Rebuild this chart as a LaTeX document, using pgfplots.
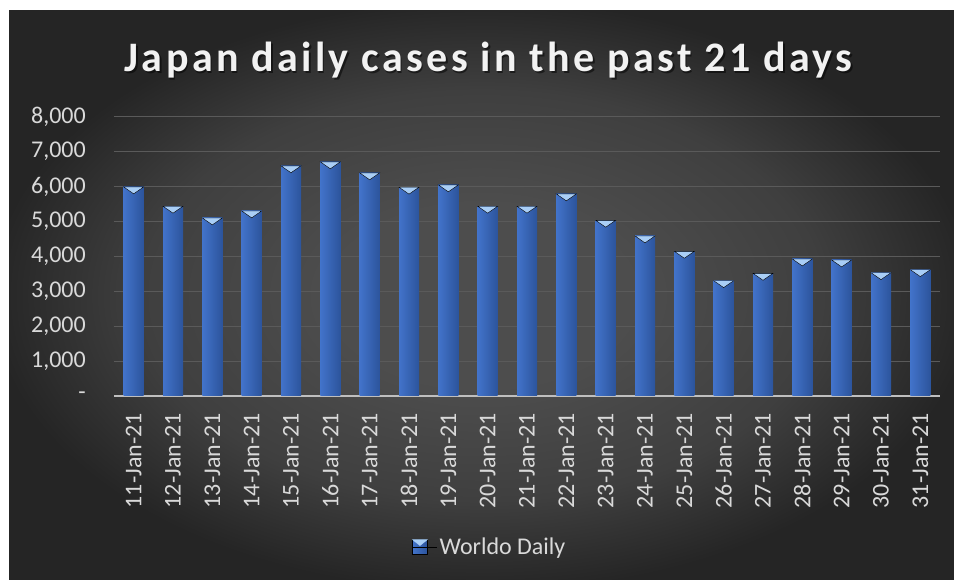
\documentclass[border=0pt]{standalone}
\usepackage{pgfplots}
\pgfplotsset{compat=1.18}
\usepackage{fontspec}
\setmainfont{Carlito}
\newfontfamily\titlefont[LetterSpace=8]{Carlito}
\definecolor{bgc}{HTML}{4D4D4D}
\definecolor{bgm}{HTML}{3F3F3F}
\definecolor{bge}{HTML}{252525}
\definecolor{barL}{HTML}{4273CA}
\definecolor{barM}{HTML}{598EE6}
\definecolor{barR}{HTML}{2C549C}
\definecolor{bevel}{HTML}{A9CEF6}
\definecolor{tickc}{HTML}{D9D9D9}
\definecolor{gridc}{HTML}{5A5A5A}
\definecolor{axisc}{HTML}{BFBFBF}
\pgfdeclareradialshading{bgshade}{\pgfpoint{0bp}{0bp}}{color(0bp)=(bgc); color(8bp)=(bgc); color(18bp)=(bgm); color(26bp)=(bge); color(40bp)=(bge)}
\pgfplotsset{mybar/.style={ybar, bar width=20bp, draw=none, left color=barL, middle color=barM, right color=barR, forget plot}}
\begin{document}
\begin{tikzpicture}
\fill[white] (0bp,0bp) rectangle (954bp,580bp);
\shade[shading=bgshade] (9bp,0bp) rectangle (954bp,569bp);
\node[anchor=base, text=black, opacity=0.5, font={\titlefont\bfseries\fontsize{42bp}{48bp}\selectfont}] at (490bp,506.8bp) {Japan daily cases in the past 21 days};
\node[anchor=base, text=white!95!black, font={\titlefont\bfseries\fontsize{42bp}{48bp}\selectfont}] at (488.5bp,508.3bp) {Japan daily cases in the past 21 days};
\begin{axis}[
  at={(114bp,184bp)}, anchor=south west,
  scale only axis, width=826bp, height=279.3bp,
  xmin=-0.5, xmax=20.5, ymin=0, ymax=8000,
  axis lines*=left,
  x axis line style={draw=axisc, line width=2bp},
  y axis line style={draw=none},
  major tick length=0pt,
  tick style={draw=none},
  ymajorgrids, major grid style={draw=gridc, line width=1bp},
  xtick={0,...,20},
  xticklabels={11-Jan-21,12-Jan-21,13-Jan-21,14-Jan-21,15-Jan-21,16-Jan-21,17-Jan-21,18-Jan-21,19-Jan-21,20-Jan-21,21-Jan-21,22-Jan-21,23-Jan-21,24-Jan-21,25-Jan-21,26-Jan-21,27-Jan-21,28-Jan-21,29-Jan-21,30-Jan-21,31-Jan-21},
  ytick={0,1000,...,8000},
  yticklabels={{-\hspace{11bp}},{1,000},{2,000},{3,000},{4,000},{5,000},{6,000},{7,000},{8,000}},
  ticklabel style={text=tickc, font=\fontsize{24bp}{28bp}\selectfont, inner sep=0pt},
  xticklabel style={rotate=90, anchor=east},
  xticklabel shift=17bp,
  yticklabel style={anchor=east},
  yticklabel shift=28bp,
  legend style={at={(0.455,-0.541)}, anchor=center, draw=none, fill=none, text=tickc, font=\fontsize{24bp}{28bp}\selectfont, inner sep=0pt},
  clip=false,
]
\addplot[mybar] coordinates {(0,5994)};
\addplot[mybar] coordinates {(1,5440)};
\addplot[mybar] coordinates {(2,5105)};
\addplot[mybar] coordinates {(3,5306)};
\addplot[mybar] coordinates {(4,6597)};
\addplot[mybar] coordinates {(5,6711)};
\addplot[mybar] coordinates {(6,6396)};
\addplot[mybar] coordinates {(7,5985)};
\addplot[mybar] coordinates {(8,6052)};
\addplot[mybar] coordinates {(9,5440)};
\addplot[mybar] coordinates {(10,5440)};
\addplot[mybar] coordinates {(11,5793)};
\addplot[mybar] coordinates {(12,5038)};
\addplot[mybar] coordinates {(13,4589)};
\addplot[mybar] coordinates {(14,4149)};
\addplot[mybar] coordinates {(15,3308)};
\addplot[mybar] coordinates {(16,3518)};
\addplot[mybar] coordinates {(17,3929)};
\addplot[mybar] coordinates {(18,3901)};
\addplot[mybar] coordinates {(19,3537)};
\addplot[mybar] coordinates {(20,3623)};
\addplot[only marks, mark=triangle*, mark size=11.5bp,
  mark options={draw=none, fill=bevel, yshift=-2.5bp, rotate=180, yscale=0.4},
  legend image code/.code={
    \shade[left color=barL, middle color=barM, right color=barR] (0bp,-7.5bp) rectangle (15bp,7.5bp);
    \fill[bevel] (0bp,7.5bp) -- (15bp,7.5bp) -- (7.5bp,1.5bp) -- cycle;
    \path (0bp,0bp) -- (25bp,0bp);
  }] coordinates {
(0,5994) (1,5440) (2,5105) (3,5306) (4,6597) (5,6711) (6,6396) (7,5985) (8,6052) (9,5440)
(10,5440) (11,5793) (12,5038) (13,4589) (14,4149) (15,3308) (16,3518) (17,3929) (18,3901) (19,3537) (20,3623)
};
\addlegendentry{Worldo Daily}
\end{axis}
\end{tikzpicture}
\end{document}
